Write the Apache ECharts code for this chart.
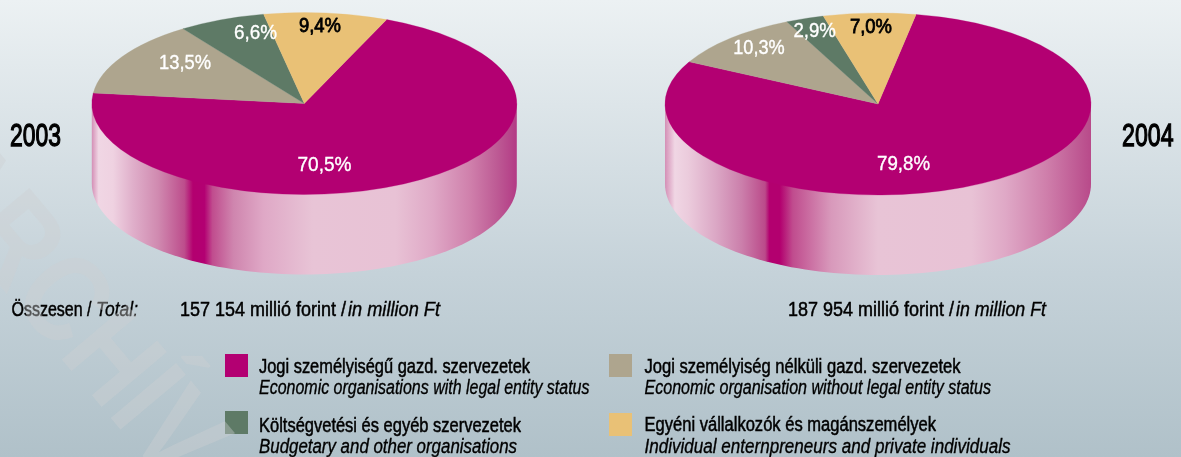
<!DOCTYPE html>
<html><head><meta charset="utf-8">
<style>html,body{margin:0;padding:0;background:#c5d2d9}#c{width:1181px;height:457px}</style>
<script src="https://cdn.jsdelivr.net/npm/echarts@6/dist/echarts.min.js"></script></head>
<body><div id="c"></div>
<script>
const categories=['Jogi személyiségű gazd. szervezetek','Jogi személyiség nélküli gazd. szervezetek','Költségvetési és egyéb szervezetek','Egyéni vállalkozók és magánszemélyek'];
const categoriesEn=['Economic organisations with legal entity status','Economic organisation without legal entity status','Budgetary and other organisations','Individual enternpreneurs and private individuals'];
const years=['2003','2004'];
const values2003=[70.5,13.5,6.6,9.4];
const values2004=[79.8,10.3,2.9,7.0];
const totals=['157 154','187 954'];
const colors=['#b30072','#aea58e','#5e7a66','#e9c176'];
const labelColors=['#fff','#fff','#fff','#000'];

const NARROW='"Liberation Sans Narrow","Liberation Sans",sans-serif';
const SANS='"Liberation Sans",sans-serif';
const cv=document.createElement('canvas').getContext('2d');
function fit(str,font,target){cv.font=font;return target/cv.measureText(str).width;}
function T(x,y,str,target,o){o=o||{};
  const size=o.size||20,style=o.italic?'italic':'normal',weight=o.weight||'normal',fam=o.fam||NARROW;
  const font=style+' '+weight+' '+size+'px '+fam,fill=o.fill||'#000';
  return {type:'text',x:x,y:y,scaleX:fit(str,font,target),silent:true,z:o.z||10,
    style:{text:str,font:font,fill:fill,stroke:fill,lineWidth:o.sw===undefined?0.5:o.sw,textAlign:o.align||'left',textVerticalAlign:'middle'}};}

const pies=[
 {values:values2003,cx:304.3,cy:103.5,rx:212.5,ry:91,depth:80,start:22.8,
  stops:[[0,'#d48fb6'],[.016,'#f0d6e4'],[.05,'#efd2e1'],[.095,'#e0b0cb'],[.156,'#d08ab0'],[.218,'#bd4d8c'],[.238,'#b3006f'],[.265,'#b30072'],[.284,'#c04c8e'],[.333,'#cf85ae'],[.404,'#dfa8c6'],[.52,'#e8c4d6'],[.715,'#e8c2d5'],[.803,'#dfa8c6'],[.892,'#cf7fab'],[.954,'#bd5a94'],[1,'#b33a85']],
  labels:[[324.5,165,54],[185,63,52],[255.5,33,43],[320,26,42]]},
 {values:values2004,cx:878,cy:104,rx:213,ry:91,depth:80,start:10.3,
  stops:[[0,'#d48fb6'],[.023,'#f0d6e4'],[.055,'#ebcbdc'],[.12,'#dba7c5'],[.18,'#cb7fab'],[.235,'#bb4a8a'],[.245,'#b3006f'],[.27,'#b3006f'],[.3,'#c04c8e'],[.39,'#d899bb'],[.5,'#e8c4d6'],[.72,'#e8c2d5'],[.8,'#dfa8c6'],[.895,'#cf7fab'],[1,'#b84a8a']],
  labels:[[903.5,164,53],[759,48.7,51.5],[814.7,31,42.5],[871,27,42]]}
];

function pieSeries(p,name){
  const sum=p.values.reduce((a,b)=>a+b,0);
  return {type:'custom',name:name,coordinateSystem:'none',silent:true,
    data:p.values.map((v,i)=>[i,v]),
    renderItem(params,api){
      const i=api.value(0),v=api.value(1);
      let before=0;for(let k=0;k<i;k++)before+=p.values[k];
      const a0=(p.start+before/sum*360-90)*Math.PI/180,a1=(p.start+(before+v)/sum*360-90)*Math.PI/180;
      const kids=[];
      if(i===0){
        const pts=[];
        for(let d=0;d<=180;d+=2){const t=d*Math.PI/180;pts.push([p.cx+p.rx*Math.cos(t),p.cy+p.depth+p.ry*Math.sin(t)]);}
        pts.push([p.cx-p.rx,p.cy],[p.cx+p.rx,p.cy]);
        kids.push({type:'polygon',shape:{points:pts},z2:0,
          style:{fill:new echarts.graphic.LinearGradient(0,0,1,0,p.stops.map(s=>({offset:s[0],color:s[1]})))}});
      }
      kids.push({type:'group',x:p.cx,y:p.cy,scaleY:p.ry/p.rx,z2:1,children:[
        {type:'sector',shape:{cx:0,cy:0,r0:0,r:p.rx,startAngle:a0,endAngle:a1,clockwise:true},
         style:{fill:colors[i],stroke:colors[i],lineWidth:.4}}]});
      const l=p.labels[i],str=v.toFixed(1).replace('.',',')+'%';
      const t=T(l[0],l[1],str,l[2],{size:20,fam:SANS,fill:labelColors[i],align:'center',sw:i===3?0.8:0.35});
      t.z2=5;kids.push(t);
      return {type:'group',children:kids};
    }};
}

const g=[];
g.push(T(10,137,years[0],51,{size:32,sw:1.3}),T(1122,137,years[1],51.5,{size:32,sw:1.3}));
g.push(T(11.5,310,'Összesen /',80),T(96,310,'Total:',42,{italic:true,sw:.35}));
g.push(T(180,310,totals[0]+' millió forint /',166),T(348,310,'in million Ft',92,{italic:true,sw:.35}));
g.push(T(788,310,totals[1]+' millió forint /',166),T(956,310,'in million Ft',90,{italic:true,sw:.35}));
const legendLayout=[
 {bx:225,by:354,tx:259,y1:367,y2:388,w1:271,w2:330.5},
 {bx:609,by:354,tx:644.5,y1:367,y2:388,w1:316,w2:346.5},
 {bx:225,by:411,tx:259,y1:426,y2:447,w1:262,w2:258},
 {bx:609,by:413,tx:644.5,y1:425,y2:447,w1:291.5,w2:366}
];
legendLayout.forEach((L,i)=>{
  g.push({type:'rect',shape:{x:L.bx,y:L.by,width:23,height:23},style:{fill:colors[i]},silent:true,z:10});
  g.push(T(L.tx,L.y1,categories[i],L.w1),T(L.tx,L.y2,categoriesEn[i],L.w2,{italic:true,sw:.35}));
});
// faint diagonal watermark lying over the page, as in the source
const wmFont='bold 124px "Liberation Sans Narrow","Liberation Sans",sans-serif';
cv.font=wmFont;
const wmScale=0.85,wmLead=cv.measureText('ARC').width*wmScale,wmAng=50*Math.PI/180;
g.push({type:'text',x:36-wmLead*Math.cos(wmAng),y:372-wmLead*Math.sin(wmAng),rotation:-wmAng,scaleX:wmScale,silent:true,z:20,
  style:{text:'ARCHÍV',font:wmFont,fill:'rgba(205,208,210,0.4)',textVerticalAlign:'bottom'}});

const chart=echarts.init(document.getElementById('c'),null,{renderer:'canvas'});
chart.setOption({animation:false,
  backgroundColor:new echarts.graphic.LinearGradient(0,0,0,1,[{offset:0,color:'#ecf1f3'},{offset:.6,color:'#c5d2d9'},{offset:1,color:'#b0c1c9'}]),
  graphic:{elements:g},
  series:[pieSeries(pies[0],years[0]),pieSeries(pies[1],years[1])]});
</script></body></html>
